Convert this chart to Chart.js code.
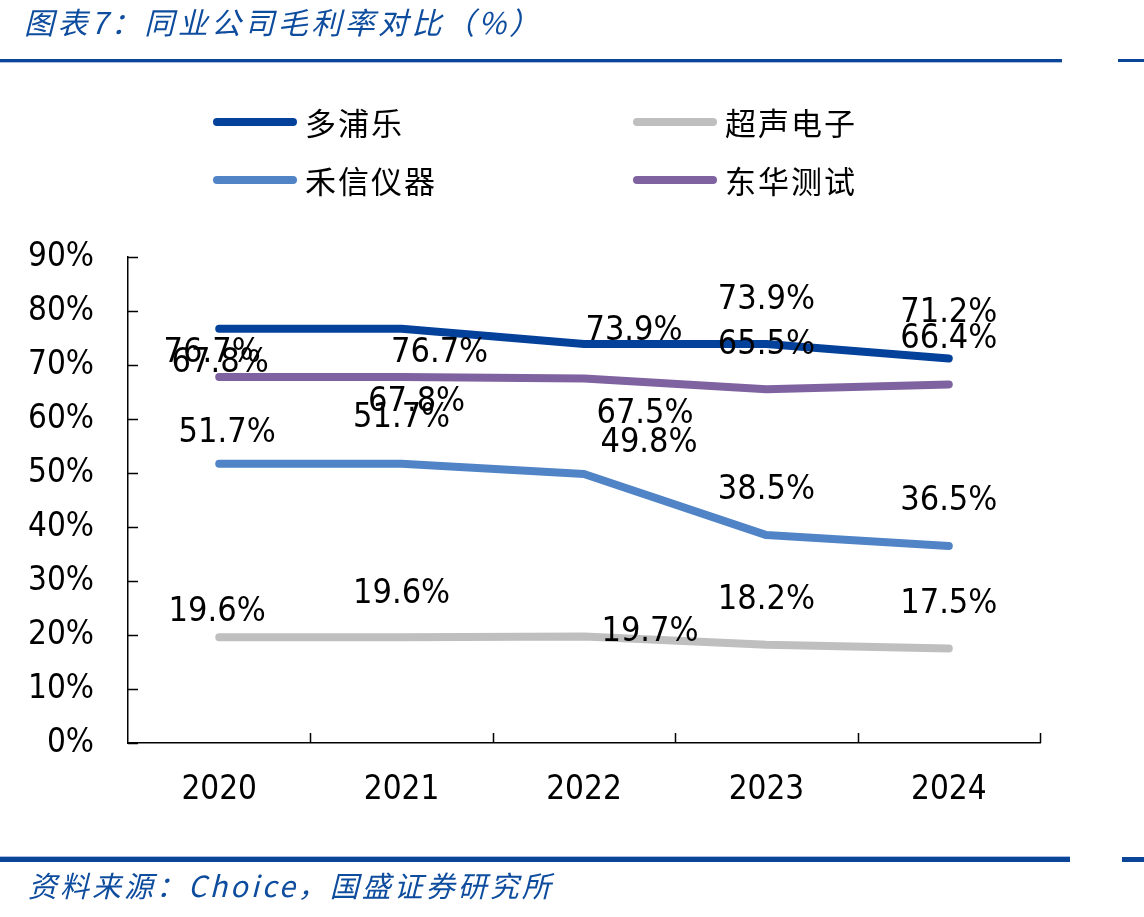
<!DOCTYPE html>
<html>
<head>
<meta charset="utf-8">
<script src="https://cdn.jsdelivr.net/npm/chart.js@4/dist/chart.umd.min.js"></script>
<style>
html,body{margin:0;padding:0;background:#fff;}
#wrap{position:relative;width:1144px;height:917px;}
</style>
</head>
<body>
<div id="wrap"><canvas id="c"></canvas></div>
<script>
// ---- data ----
const categories = ['2020', '2021', '2022', '2023', '2024'];
const seriesNames = ['多浦乐', '超声电子', '禾信仪器', '东华测试'];
const duopule  = [76.7, 76.7, 73.9, 73.9, 71.2];
const chaosheng = [19.6, 19.6, 19.7, 18.2, 17.5];
const hexin    = [51.7, 51.7, 49.8, 38.5, 36.5];
const donghua  = [67.8, 67.8, 67.5, 65.5, 66.4];
const yTicks = [0, 10, 20, 30, 40, 50, 60, 70, 80, 90];
const titleText = '图表7：同业公司毛利率对比（%）';
const sourceText = '资料来源：Choice，国盛证券研究所';

// ---- styles (not data) ----
const colors = ['#03419A', '#BFBFBF', '#5084C6', '#7F62A0'];
// data label offsets (px) relative to each point, per series
const labelOffsets = [
  [[-7, 23], [38, 23], [50, -14], [0, -45], [0, -46]],
  [[-2, -26], [0, -44], [66, -5], [0, -46], [0, -45]],
  [[8, -32], [0, -47], [65, -32], [0, -46], [0, -46]],
  [[1, -15], [15, 24], [61, 35], [0, -45], [0, -46]]
];
const NUM_FONT = "'DejaVu Sans Condensed','DejaVu Sans',sans-serif";
const CJK_FONT = "'Noto Sans CJK SC',sans-serif";
const BLUE = '#0B4597';

const allSeries = [duopule, chaosheng, hexin, donghua];

const decor = {
  id: 'decor',
  afterDraw(chart) {
    const ctx = chart.ctx;
    ctx.save();
    // title
    ctx.fillStyle = '#0E4C9E';
    ctx.font = "italic 30px " + CJK_FONT;
    ctx.textBaseline = 'middle';
    ctx.textAlign = 'left';
    ctx.letterSpacing = '3.4px';
    ctx.fillText(titleText, 24, 23);
    // top rule
    ctx.fillStyle = BLUE;
    ctx.fillRect(0, 59, 1062, 3);
    ctx.fillRect(1118, 59, 26, 3);
    ctx.fillStyle = '#A9BFE3';
    ctx.fillRect(0, 62, 1062, 1);
    // bottom rule
    ctx.fillStyle = '#A9BFE3';
    ctx.fillRect(0, 856, 1070, 1);
    ctx.fillStyle = BLUE;
    ctx.fillRect(0, 857, 1070, 5);
    ctx.fillRect(1122, 857, 22, 5);
    // source
    ctx.fillStyle = '#0E4C9E';
    ctx.font = "italic 29px " + CJK_FONT;
    ctx.letterSpacing = '3px';
    ctx.fillText(sourceText, 28, 886);

    // legend
    const legendPos = [[213, 122], [633, 122], [213, 180], [633, 180]];
    ctx.letterSpacing = '2px';
    chart.data.datasets.forEach((ds, i) => {
      const [x, y] = legendPos[i];
      ctx.strokeStyle = ds.borderColor;
      ctx.lineWidth = 8;
      ctx.lineCap = 'round';
      ctx.beginPath();
      ctx.moveTo(x + 4, y);
      ctx.lineTo(x + 80, y);
      ctx.stroke();
      ctx.fillStyle = '#000';
      ctx.font = "31px " + CJK_FONT;
      ctx.textBaseline = 'middle';
      ctx.fillText(ds.label, x + 92, y + 1);
    });
    ctx.letterSpacing = '0px';

    // inward tick marks
    const xs = chart.scales.x, ys = chart.scales.y;
    const area = chart.chartArea;
    ctx.strokeStyle = '#000';
    ctx.lineWidth = 1.5;
    ctx.lineCap = 'butt';
    ctx.beginPath();
    ys.ticks.forEach(t => {
      const y = Math.round(ys.getPixelForValue(t.value)) + 0.5;
      ctx.moveTo(area.left, y);
      ctx.lineTo(area.left + 10, y);
    });
    for (let i = 0; i < categories.length; i++) {
      let x;
      if (i < categories.length - 1) {
        x = (xs.getPixelForValue(i) + xs.getPixelForValue(i + 1)) / 2;
      } else {
        x = area.right;
      }
      x = Math.round(x) + 0.5;
      ctx.moveTo(x, area.bottom);
      ctx.lineTo(x, area.bottom - 10);
    }
    ctx.stroke();
    ctx.restore();
  },
  afterDatasetsDraw(chart) {
    const ctx = chart.ctx;
    ctx.save();
    ctx.fillStyle = '#000';
    ctx.font = "34px " + NUM_FONT;
    ctx.textAlign = 'center';
    ctx.textBaseline = 'middle';
    chart.data.datasets.forEach((ds, i) => {
      const meta = chart.getDatasetMeta(i);
      meta.data.forEach((pt, j) => {
        const off = labelOffsets[i][j];
        ctx.fillText(ds.data[j].toFixed(1) + '%', pt.x + off[0], pt.y + off[1] + 1);
      });
    });
    ctx.restore();
  }
};

new Chart(document.getElementById('c'), {
  type: 'line',
  data: {
    labels: categories,
    datasets: seriesNames.map((name, i) => ({
      label: name,
      data: allSeries[i],
      borderColor: colors[i],
      backgroundColor: colors[i],
      borderWidth: 8,
      borderCapStyle: 'round',
      borderJoinStyle: 'round',
      pointRadius: 0,
      tension: 0,
      fill: false
    }))
  },
  options: {
    responsive: true,
    maintainAspectRatio: false,
    animation: false,
    layout: { padding: { top: 257, right: 104, bottom: 0, left: 0 } },
    plugins: {
      legend: { display: false },
      title: { display: false },
      tooltip: { enabled: false }
    },
    scales: {
      x: {
        type: 'category',
        offset: true,
        grid: { display: false, drawTicks: false },
        border: { display: true, color: '#000', width: 1.5 },
        ticks: {
          color: '#000',
          font: { family: NUM_FONT, size: 33 },
          padding: 28,
          maxRotation: 0
        },
        afterFit(scale) { scale.height = 174; }
      },
      y: {
        min: yTicks[0],
        max: yTicks[yTicks.length - 1],
        grid: { display: false, drawTicks: false },
        border: { display: true, color: '#000', width: 1.5 },
        afterBuildTicks(scale) { scale.ticks = yTicks.map(v => ({ value: v })); },
        ticks: {
          color: '#000',
          font: { family: NUM_FONT, size: 33 },
          padding: 34,
          callback: v => v + '%'
        },
        afterFit(scale) { scale.width = 128; }
      }
    }
  },
  plugins: [decor]
});
</script>
</body>
</html>
